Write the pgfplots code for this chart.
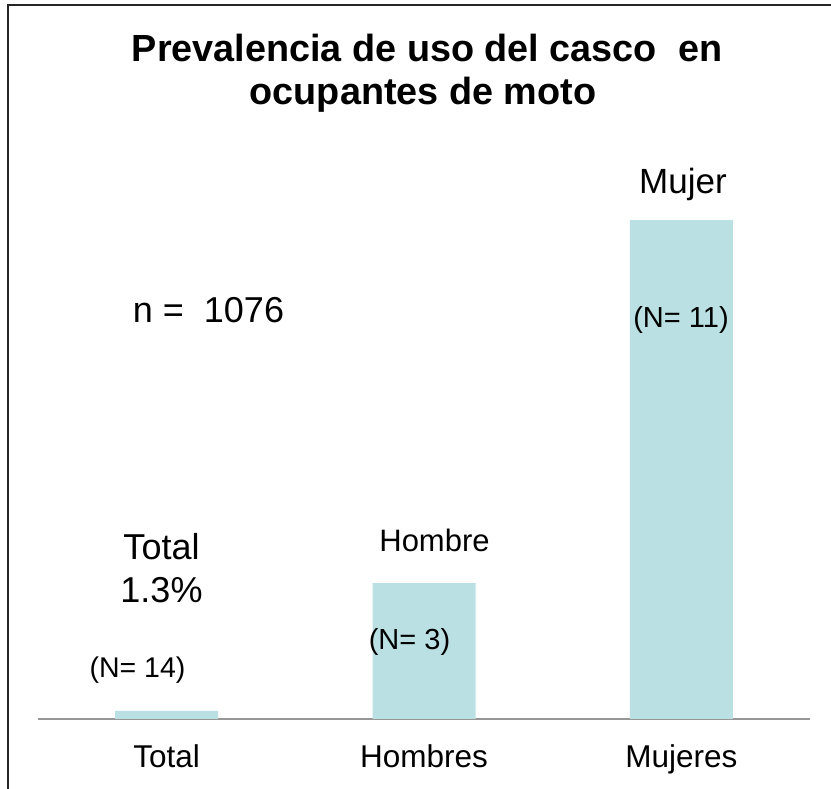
\documentclass[border=0pt]{standalone}
\usepackage{pgfplots}
\pgfplotsset{compat=1.18}
\usepackage{fontspec}
\setmainfont{Liberation Sans}

\definecolor{barfill}{RGB}{186,224,228}
\definecolor{baseline}{RGB}{150,150,150}

\newcommand{\fs}[1]{\fontsize{#1}{#1}\selectfont}

\begin{document}
\begin{tikzpicture}[x=1pt,y=1pt]
  \useasboundingbox (0,0) rectangle (831,789);

  % frame (top and left only)
  \draw[line width=2pt, black!85] (8,0) -- (8,784) -- (831,784);

  \begin{axis}[
      at={(166.67pt,70pt)}, anchor=origin,
      scale only axis,
      width=772pt, height=615pt,
      xmin=-0.5, xmax=2.5,
      ymin=0, ymax=100,
      axis y line=none,
      axis x line*=bottom,
      x axis line style={draw=baseline, line width=1.8pt, -},
      xtick={0,1,2},
      xticklabels={Total,Hombres,Mujeres},
      major tick length=0pt,
      xticklabel style={anchor=base, yshift=-49pt, inner sep=0pt, font=\fs{31.5}},
      ytick=\empty,
      clip=false,
  ]
    \addplot[ybar, bar width=103pt, fill=barfill, draw=none]
      coordinates {(0,1.3) (1,22.1) (2,81.1)};
  \end{axis}

  % title
  \node[anchor=base, inner sep=0pt, font=\bfseries\fs{37.8}] at (427,727) {Prevalencia de uso del casco\ \ en};
  \node[anchor=base, inner sep=0pt, font=\bfseries\fs{37.8}] at (423,684) {ocupantes de moto};

  % annotations
  \node[anchor=base, inner sep=0pt, font=\fs{36}] at (208.5,466) {n = \ 1076};
  \node[anchor=base, inner sep=0pt, font=\fs{35}] at (683,595) {Mujer};
  \node[anchor=base, inner sep=0pt, font=\fs{29}] at (681,461) {(N= 11)};
  \node[anchor=base, inner sep=0pt, font=\fs{36}] at (161.5,229) {Total};
  \node[anchor=base, inner sep=0pt, font=\fs{36}] at (161.5,186) {1.3\%};
  \node[anchor=base, inner sep=0pt, font=\fs{31}] at (434.5,237) {Hombre};
  \node[anchor=base, inner sep=0pt, font=\fs{29}] at (409.5,139) {(N= 3)};
  \node[anchor=base, inner sep=0pt, font=\fs{28.5}] at (137.5,111) {(N= 14)};
\end{tikzpicture}
\end{document}
